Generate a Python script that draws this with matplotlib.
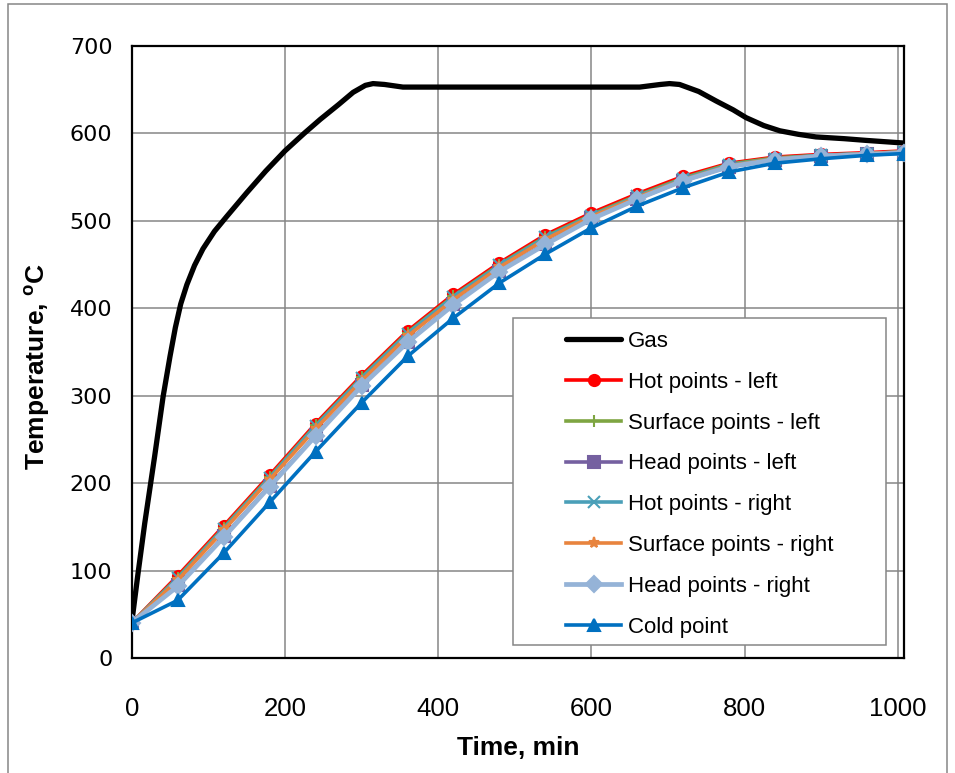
import matplotlib
matplotlib.use("Agg")
import matplotlib.pyplot as plt
from matplotlib import font_manager
from matplotlib.patches import Rectangle

# fonts: narrow sans for the Excel-style labels, DejaVu for the wide y ticks
_names = {f.name for f in font_manager.fontManager.ttflist}
NARROW = 'Liberation Sans Narrow' if 'Liberation Sans Narrow' in _names else 'Liberation Sans'

# ---- data ----
gas_time = [0, 8, 17, 30, 41, 50, 57, 64, 72, 82, 93, 108, 124, 150, 175, 200, 225, 246, 270,
            289, 305, 315, 330, 354, 400, 500, 600, 663, 690, 702, 715, 740, 763,
            785, 802, 825, 846, 870, 893, 930, 959, 1008]
gas_temp = [40, 95, 154, 231, 299, 345, 378, 405, 427, 449, 468, 488, 505, 532, 557, 580, 600, 616, 633,
            647, 655, 657, 656, 653, 653, 653, 653, 653, 656, 657, 656, 648, 637,
            627, 618, 609, 603, 599, 596, 594, 592, 589]

time = [0, 60, 120, 180, 240, 300, 360, 420, 480, 540, 600, 660, 720, 780, 840, 900, 960, 1008]
hot_left = [40, 94, 151, 209, 268, 323, 374, 416, 452, 484, 509, 531, 551, 566, 573, 576, 578, 580]
surface_left = [40, 92, 149, 207, 266, 321, 372, 414, 450, 482, 507, 529, 549, 565, 572, 575, 577, 579]
head_left = [40, 83, 139, 197, 255, 312, 362, 405, 443, 474, 503, 525, 546, 562, 570, 574, 576, 578]
hot_right = [40, 91, 148, 206, 265, 320, 371, 413, 449, 481, 506, 528, 548, 564, 571, 575, 577, 579]
surface_right = [40, 89, 146, 204, 262, 317, 368, 410, 447, 479, 505, 527, 547, 563, 571, 574, 577, 579]
head_right = [40, 82, 138, 196, 254, 311, 361, 404, 442, 473, 502, 525, 546, 562, 570, 574, 576, 578]
cold = [40, 66, 120, 178, 236, 292, 345, 389, 429, 462, 492, 517, 538, 556, 566, 571, 575, 577]

series = [
    ('Hot points - left', hot_left, '#FF0000', 'o', 2.6),
    ('Surface points - left', surface_left, '#7EA542', '+', 2.6),
    ('Head points - left', head_left, '#7560A0', 's', 2.6),
    ('Hot points - right', hot_right, '#4A9FB8', 'x', 2.6),
    ('Surface points - right', surface_right, '#E8843E', '*', 2.6),
    ('Head points - right', head_right, '#95B3D7', 'D', 3.4),
    ('Cold point', cold, '#0070C0', '^', 2.6),
]

fig = plt.figure(figsize=(9.55, 7.73), dpi=100)
ax = fig.add_axes([131.7 / 955, 1 - 658 / 773, (904 - 131.7) / 955, (658 - 46) / 773])

# chart-area frame
fig.patches.append(Rectangle((8 / 955, -0.02), (947 - 8) / 955, 1.02 - 4 / 773,
                             transform=fig.transFigure, fill=False,
                             edgecolor='#868686', linewidth=1.1))

ax.plot(gas_time, gas_temp, color='black', linewidth=3.8, label='Gas',
        solid_capstyle='round', solid_joinstyle='round', zorder=3)
for name, vals, col, mk, lw in series:
    ax.plot(time, vals, color=col, linewidth=lw, marker=mk, markersize=8,
            markeredgecolor=col, markeredgewidth=1.5, label=name, zorder=4)

ax.set_xlim(0, 1008)
ax.set_ylim(0, 700)
ax.set_xticks(range(0, 1001, 200))
ax.set_yticks(range(0, 701, 100))
ax.grid(True, color='#868686', linewidth=1.1)
ax.set_axisbelow(True)
for sp in ax.spines.values():
    sp.set_color('black')
    sp.set_linewidth(1.6)

ax.tick_params(axis='both', length=0)
ax.tick_params(axis='x', pad=28)
ax.tick_params(axis='y', pad=14)
for lab in ax.get_xticklabels():
    lab.set_fontfamily(NARROW)
    lab.set_fontsize(18.5)
for lab in ax.get_yticklabels():
    lab.set_fontfamily('DejaVu Sans')
    lab.set_fontsize(16)

ax.set_xlabel('Time, min', fontsize=19, fontweight='bold', family=NARROW)
ax.set_ylabel('Temperature, $^{\\mathregular{o}}$C', fontsize=19, fontweight='bold', family=NARROW)
ax.xaxis.set_label_coords(0.5, -0.147)
ax.yaxis.set_label_coords(-0.1226, 0.477)
ax.xaxis.label.set_va('center')
ax.yaxis.label.set_va('center')

# legend box drawn separately (Excel has wide side padding)
ax.add_patch(Rectangle((513 / 955, 1 - 645 / 773), (886 - 513) / 955, (645 - 318) / 773,
                       transform=fig.transFigure, facecolor='white', clip_on=False,
                       edgecolor='#868686', linewidth=1.1, zorder=5))
leg = ax.legend(loc='upper left', bbox_to_anchor=(555 / 955, 1 - 320 / 773),
                bbox_transform=fig.transFigure, frameon=False, borderpad=0,
                numpoints=1, handlelength=2.48, handletextpad=0.3,
                labelspacing=0.89, prop={'family': NARROW, 'size': 16})
leg.set_zorder(6)

fig.savefig('out.png', dpi=100, facecolor='white')
